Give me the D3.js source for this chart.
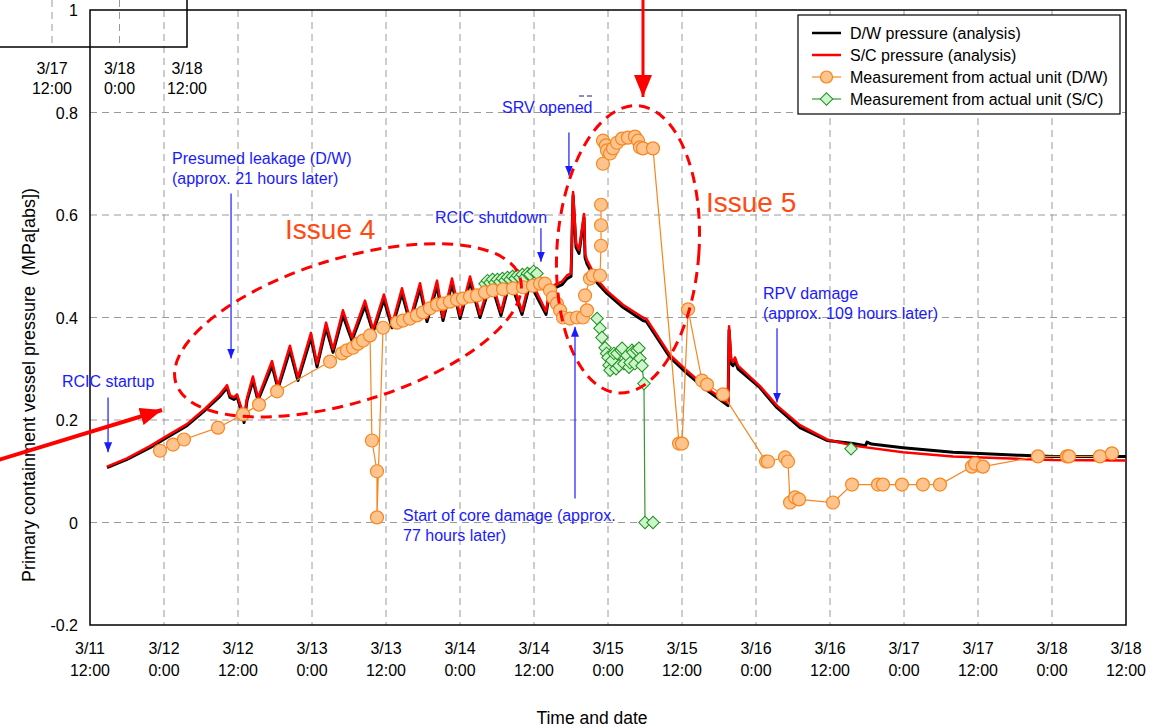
<!DOCTYPE html>
<html>
<head>
<meta charset="utf-8">
<script src="https://cdn.jsdelivr.net/npm/d3@7"></script>
<style>
  body { margin: 0; background: #fff; }
  text { font-family: Arial, "Liberation Sans", sans-serif; }
</style>
</head>
<body>
<div id="chart"></div>
<script>
const width = 1164;
const height = 728;
const plot = { left: 90, right: 1126, top: 10, bottom: 625 };

// x values are day-of-March (11.5 = 3/11 12:00), y values MPa[abs]
const xTicks = [11.5, 12, 12.5, 13, 13.5, 14, 14.5, 15, 15.5, 16, 16.5, 17, 17.5, 18, 18.5];
const xTickDays = ["3/11", "3/12", "3/12", "3/13", "3/13", "3/14", "3/14", "3/15", "3/15", "3/16", "3/16", "3/17", "3/17", "3/18", "3/18"];
const xTickTimes = ["12:00", "0:00", "12:00", "0:00", "12:00", "0:00", "12:00", "0:00", "12:00", "0:00", "12:00", "0:00", "12:00", "0:00", "12:00"];
const yTicks = [-0.2, 0, 0.2, 0.4, 0.6, 0.8, 1];
const yTickLabels = ["-0.2", "0", "0.2", "0.4", "0.6", "0.8", "1"];

// fragment of the neighbouring chart that overlaps the top-left corner
const insetTicks = [17.5, 18, 18.5];
const insetTickDays = ["3/17", "3/18", "3/18"];
const insetTickTimes = ["12:00", "0:00", "12:00"];

const dwAnalysis = [
  [11.615, 0.107], [11.75, 0.123], [11.905, 0.146], [12.02, 0.166], [12.155, 0.189], [12.277, 0.219],
  [12.378, 0.246], [12.426, 0.263], [12.446, 0.244], [12.473, 0.24], [12.493, 0.246], [12.527, 0.213],
  [12.541, 0.195], [12.561, 0.238], [12.601, 0.277], [12.635, 0.238], [12.73, 0.306], [12.77, 0.261],
  [12.851, 0.336], [12.905, 0.277], [12.993, 0.361], [13.034, 0.304], [13.095, 0.38], [13.142, 0.332],
  [13.209, 0.404], [13.27, 0.355], [13.358, 0.423], [13.412, 0.371], [13.486, 0.435], [13.541, 0.38],
  [13.608, 0.447], [13.662, 0.39], [13.73, 0.457], [13.777, 0.392], [13.845, 0.462], [13.885, 0.394],
  [13.946, 0.466], [14.0, 0.398], [14.068, 0.47], [14.135, 0.4], [14.209, 0.468], [14.277, 0.404],
  [14.338, 0.472], [14.419, 0.406], [14.473, 0.466], [14.581, 0.406], [14.608, 0.453], [14.649, 0.459],
  [14.689, 0.464], [14.723, 0.476], [14.75, 0.48], [14.764, 0.638], [14.784, 0.537], [14.804, 0.525],
  [14.838, 0.595], [14.845, 0.517], [14.858, 0.505], [14.926, 0.468], [14.993, 0.447], [15.101, 0.42],
  [15.236, 0.394], [15.26, 0.392], [15.419, 0.322], [15.534, 0.291], [15.669, 0.258], [15.811, 0.228],
  [15.818, 0.375], [15.832, 0.31], [15.845, 0.306], [15.858, 0.316], [15.878, 0.3], [16.027, 0.263],
  [16.142, 0.224], [16.297, 0.185], [16.48, 0.16], [16.655, 0.154], [16.74, 0.15], [16.75, 0.157],
  [16.78, 0.153], [16.993, 0.146], [17.331, 0.137], [17.784, 0.131], [18.007, 0.129], [18.5, 0.129]
];

const scAnalysis = [
  [11.615, 0.109], [11.75, 0.125], [11.905, 0.149], [12.02, 0.169], [12.155, 0.192], [12.277, 0.222],
  [12.378, 0.25], [12.426, 0.268], [12.446, 0.248], [12.473, 0.244], [12.493, 0.25], [12.527, 0.22],
  [12.541, 0.205], [12.561, 0.243], [12.601, 0.285], [12.635, 0.243], [12.73, 0.315], [12.77, 0.266],
  [12.851, 0.345], [12.905, 0.283], [12.993, 0.37], [13.034, 0.31], [13.095, 0.39], [13.142, 0.338],
  [13.209, 0.414], [13.27, 0.361], [13.358, 0.433], [13.412, 0.377], [13.486, 0.445], [13.541, 0.386],
  [13.608, 0.457], [13.662, 0.396], [13.73, 0.467], [13.777, 0.398], [13.845, 0.472], [13.885, 0.4],
  [13.946, 0.476], [14.0, 0.404], [14.068, 0.48], [14.135, 0.406], [14.209, 0.478], [14.277, 0.41],
  [14.338, 0.482], [14.419, 0.412], [14.473, 0.476], [14.581, 0.412], [14.608, 0.458], [14.649, 0.465],
  [14.689, 0.47], [14.723, 0.482], [14.75, 0.486], [14.764, 0.645], [14.784, 0.545], [14.804, 0.532],
  [14.838, 0.602], [14.845, 0.524], [14.858, 0.512], [14.926, 0.474], [14.993, 0.452], [15.101, 0.425],
  [15.236, 0.4], [15.26, 0.397], [15.419, 0.327], [15.534, 0.296], [15.669, 0.262], [15.811, 0.233],
  [15.818, 0.383], [15.832, 0.32], [15.845, 0.313], [15.858, 0.322], [15.878, 0.306], [16.027, 0.266],
  [16.142, 0.228], [16.297, 0.19], [16.48, 0.162], [16.655, 0.15], [16.993, 0.137], [17.331, 0.129],
  [17.784, 0.124], [18.007, 0.122], [18.5, 0.121]
];

// null marks a gap in the recorded series
const dwMeasured = [
  [11.973, 0.14], [12.061, 0.152], [12.135, 0.162], [12.365, 0.185], [12.534, 0.211], [12.642, 0.23],
  [12.764, 0.256], [13.122, 0.314], [13.203, 0.33], [13.236, 0.336], [13.277, 0.341], [13.311, 0.349],
  [13.345, 0.355], [13.392, 0.365], [13.405, 0.16], [13.439, 0.1], [13.439, 0.01], [13.48, 0.38],
  [13.574, 0.39], [13.615, 0.394], [13.662, 0.398], [13.709, 0.404], [13.75, 0.41], [13.797, 0.418],
  [13.845, 0.425], [13.885, 0.427], [13.932, 0.431], [13.98, 0.435], [14.02, 0.437], [14.068, 0.441],
  [14.115, 0.443], [14.169, 0.449], [14.223, 0.453], [14.291, 0.455], [14.358, 0.457], [14.426, 0.459],
  [14.493, 0.462], [14.541, 0.466], [14.574, 0.466], [14.608, 0.453], [14.628, 0.439], [14.655, 0.427],
  [14.676, 0.414], [14.696, 0.4], [14.743, 0.398], [14.791, 0.4], [14.831, 0.4], [14.858, 0.414],
  [14.845, 0.443], [14.878, 0.476], [14.899, 0.482], [14.946, 0.482], [14.953, 0.54], [14.953, 0.58],
  [14.953, 0.62], [14.96, null],
  [14.966, 0.7], [14.966, 0.745], [14.986, 0.736], [14.993, 0.726], [15.014, 0.72], [15.034, 0.73],
  [15.061, 0.741], [15.095, 0.749], [15.135, 0.751], [15.182, 0.753], [15.203, 0.745], [15.216, 0.732],
  [15.236, 0.73], [15.304, 0.73], [15.48, 0.154], [15.5, 0.154], [15.541, 0.416], [15.635, 0.277],
  [15.669, 0.269], [15.777, 0.25], [16.068, 0.119], [16.081, 0.119], [16.196, 0.127], [16.216, 0.119],
  [16.23, 0.039], [16.264, 0.049], [16.291, 0.045], [16.52, 0.039], [16.649, 0.074], [16.824, 0.074],
  [16.858, 0.074], [16.986, 0.074], [17.128, 0.074], [17.243, 0.074], [17.459, 0.109], [17.48, 0.115],
  [17.534, 0.109], [17.905, 0.129], [18.101, 0.129], [18.115, 0.129], [18.324, 0.129], [18.405, 0.135]
];

const scMeasured = [
  [14.169, 0.466], [14.186, 0.472], [14.203, 0.468], [14.22, 0.474], [14.236, 0.468], [14.253, 0.474],
  [14.27, 0.47], [14.287, 0.476], [14.304, 0.472], [14.321, 0.478], [14.338, 0.474], [14.355, 0.48],
  [14.372, 0.476], [14.389, 0.482], [14.405, 0.478], [14.422, 0.484], [14.439, 0.478], [14.456, 0.486],
  [14.473, 0.484], [14.497, 0.49], [14.52, 0.486], [14.53, null],
  [14.926, 0.398], [14.946, 0.379], [14.959, 0.361], [14.98, 0.341], [14.99, 0.33], [15.0, 0.322],
  [15.007, 0.307], [15.014, 0.297], [15.027, 0.316], [15.04, 0.33], [15.054, 0.3], [15.061, 0.33],
  [15.074, 0.306], [15.088, 0.336], [15.095, 0.34], [15.108, 0.31], [15.128, 0.326], [15.142, 0.303],
  [15.149, 0.312], [15.162, 0.336], [15.169, 0.332], [15.182, 0.31], [15.196, 0.336], [15.209, 0.34],
  [15.216, 0.32], [15.23, 0.306], [15.243, 0.271], [15.25, 0], [15.304, 0], [15.4, null],
  [16.642, 0.144]
];

// annotation anchors in data units
const notes = [
  { lines: ["RCIC startup"], tx: 11.31, ty: 0.265, ax: 11.622, a0: 0.244, a1: 0.137 },
  { lines: ["Presumed leakage (D/W)", "(approx. 21 hours later)"], tx: 12.054, ty: 0.699, ax: 12.453, a0: 0.642, a1: 0.32 },
  { lines: ["RCIC shutdown"], tx: 13.831, ty: 0.585, ax: 14.547, a0: 0.574, a1: 0.509 },
  { lines: ["SRV opened"], tx: 14.284, ty: 0.8, ax: 14.736, a0: 0.761, a1: 0.677 },
  { lines: ["Start of core damage (approx.", "77 hours later)"], tx: 13.615, ty: 0.002, ax: 14.777, a0: 0.047, a1: 0.382 },
  { lines: ["RPV damage", "(approx. 109 hours later)"], tx: 16.047, ty: 0.437, ax: 16.142, a0: 0.379, a1: 0.234 }
];
const issues = [
  { label: "Issue 4", tx: 12.818, ty: 0.554, cx: 13.243, cy: 0.375, rx: 180, ry: 72, rot: -17 },
  { label: "Issue 5", tx: 15.662, ty: 0.605, cx: 15.135, cy: 0.533, rx: 71, ry: 144, rot: 4 }
];

const xScale = d3.scaleLinear().domain([11.5, 18.5]).range([plot.left, plot.right]);
const yScale = d3.scaleLinear().domain([-0.2, 1]).range([plot.bottom, plot.top]);
const insetScale = d3.scaleLinear().domain([17.5, 18.5]).range([52, 187]);

const svg = d3
  .select("#chart")
  .append("svg")
  .attr("width", width)
  .attr("height", height);

svg.append("rect").attr("width", width).attr("height", height).attr("fill", "#fff");

const defs = svg.append("defs");
const addHead = (id, color, w, h) => {
  defs
    .append("marker")
    .attr("id", id)
    .attr("viewBox", `0 0 ${w} ${h}`)
    .attr("refX", w)
    .attr("refY", h / 2)
    .attr("markerWidth", w)
    .attr("markerHeight", h)
    .attr("markerUnits", "userSpaceOnUse")
    .attr("orient", "auto")
    .append("path")
    .attr("d", `M0,0L${w},${h / 2}L0,${h}Z`)
    .attr("fill", color);
};
addHead("blueHead", "#1a1aff", 10, 8);
addHead("redHead", "#ff0000", 22, 18);

// grid
const grid = svg.append("g").attr("stroke", "#9a9a9a").attr("stroke-width", 1).attr("stroke-dasharray", "7,5");
grid
  .selectAll("line.v")
  .data(xTicks.slice(1, -1))
  .enter()
  .append("line")
  .attr("x1", d => xScale(d))
  .attr("x2", d => xScale(d))
  .attr("y1", plot.top)
  .attr("y2", plot.bottom);
grid
  .selectAll("line.h")
  .data(yTicks.slice(1, -1))
  .enter()
  .append("line")
  .attr("x1", plot.left)
  .attr("x2", plot.right)
  .attr("y1", d => yScale(d))
  .attr("y2", d => yScale(d));

// frame
svg
  .append("rect")
  .attr("x", plot.left)
  .attr("y", plot.top)
  .attr("width", plot.right - plot.left)
  .attr("height", plot.bottom - plot.top)
  .attr("fill", "none")
  .attr("stroke", "#000")
  .attr("stroke-width", 1.5);

// axis labels
const xLabels = svg.append("g").attr("font-size", 16).attr("text-anchor", "middle").attr("fill", "#000");
xTicks.forEach((t, i) => {
  const lbl = xLabels.append("text").attr("x", xScale(t)).attr("y", 654);
  lbl.append("tspan").attr("x", xScale(t)).text(xTickDays[i]);
  lbl.append("tspan").attr("x", xScale(t)).attr("dy", 22).text(xTickTimes[i]);
});

svg
  .append("g")
  .attr("font-size", 16)
  .attr("text-anchor", "end")
  .selectAll("text")
  .data(yTicks)
  .enter()
  .append("text")
  .attr("x", plot.left - 12)
  .attr("y", d => yScale(d) + 6)
  .text((d, i) => yTickLabels[i]);

svg
  .append("text")
  .attr("x", 592)
  .attr("y", 724)
  .attr("text-anchor", "middle")
  .attr("font-size", 17.5)
  .text("Time and date");

svg
  .append("text")
  .attr("transform", "translate(35,385) rotate(-90)")
  .attr("text-anchor", "middle")
  .attr("font-size", 18)
  .style("white-space", "pre")
  .text("Primary containment vessel pressure  (MPa[abs])");

// series
const line = d3
  .line()
  .defined(d => d[1] !== null)
  .x(d => xScale(d[0]))
  .y(d => yScale(d[1]));

const plotArea = svg.append("g");

plotArea
  .append("path")
  .datum(dwAnalysis)
  .attr("fill", "none")
  .attr("stroke", "#000")
  .attr("stroke-width", 3)
  .attr("stroke-linejoin", "round")
  .attr("d", line);

plotArea
  .append("path")
  .datum(scAnalysis)
  .attr("fill", "none")
  .attr("stroke", "#ff0000")
  .attr("stroke-width", 2.5)
  .attr("stroke-linejoin", "round")
  .attr("d", line);

plotArea
  .append("path")
  .datum(scMeasured)
  .attr("fill", "none")
  .attr("stroke", "#2f9a2f")
  .attr("stroke-width", 1.2)
  .attr("d", line);

const diamond = d3.symbol().type(d3.symbolSquare).size(78);
plotArea
  .selectAll("path.sc")
  .data(scMeasured.filter(d => d[1] !== null))
  .enter()
  .append("path")
  .attr("class", "sc")
  .attr("d", diamond)
  .attr("transform", d => `translate(${xScale(d[0])},${yScale(d[1])}) rotate(45)`)
  .attr("fill", "#ccf5cc")
  .attr("stroke", "#1e8f1e")
  .attr("stroke-width", 1);

plotArea
  .append("path")
  .datum(dwMeasured)
  .attr("fill", "none")
  .attr("stroke", "#f7861f")
  .attr("stroke-width", 1.2)
  .attr("d", line);

plotArea
  .selectAll("circle.dw")
  .data(dwMeasured.filter(d => d[1] !== null))
  .enter()
  .append("circle")
  .attr("class", "dw")
  .attr("cx", d => xScale(d[0]))
  .attr("cy", d => yScale(d[1]))
  .attr("r", 6.5)
  .attr("fill", "#ffc48e")
  .attr("stroke", "#f7861f")
  .attr("stroke-width", 1.2);

// issue ellipses and labels
issues.forEach(d => {
  svg
    .append("ellipse")
    .attr("cx", 0)
    .attr("cy", 0)
    .attr("rx", d.rx)
    .attr("ry", d.ry)
    .attr("transform", `translate(${xScale(d.cx)},${yScale(d.cy)}) rotate(${d.rot})`)
    .attr("fill", "none")
    .attr("stroke", "#ff0000")
    .attr("stroke-width", 3)
    .attr("stroke-dasharray", "11,7");
  svg
    .append("text")
    .attr("x", xScale(d.tx))
    .attr("y", yScale(d.ty))
    .attr("font-size", 28)
    .attr("fill", "#ff4a12")
    .text(d.label);
});

// blue annotations
notes.forEach(d => {
  const t = svg
    .append("text")
    .attr("x", xScale(d.tx))
    .attr("y", yScale(d.ty))
    .attr("font-size", 16)
    .attr("fill", "#1a1aff");
  d.lines.forEach((s, i) => {
    t.append("tspan").attr("x", xScale(d.tx)).attr("dy", i === 0 ? 0 : 20).text(s);
  });
  svg
    .append("line")
    .attr("x1", xScale(d.ax))
    .attr("x2", xScale(d.ax))
    .attr("y1", yScale(d.a0))
    .attr("y2", yScale(d.a1))
    .attr("stroke", "#1a1aff")
    .attr("stroke-width", 1.2)
    .attr("marker-end", "url(#blueHead)");
});
svg
  .append("line")
  .attr("x1", 579)
  .attr("x2", 593)
  .attr("y1", 96)
  .attr("y2", 96)
  .attr("stroke", "#1a1a8a")
  .attr("stroke-width", 1)
  .attr("stroke-dasharray", "5,3");

// big red arrows
svg
  .append("line")
  .attr("x1", 643)
  .attr("y1", -2)
  .attr("x2", 643)
  .attr("y2", 97)
  .attr("stroke", "#ff0000")
  .attr("stroke-width", 3)
  .attr("marker-end", "url(#redHead)");
svg
  .append("line")
  .attr("x1", -5)
  .attr("y1", 461)
  .attr("x2", 162)
  .attr("y2", 410)
  .attr("stroke", "#ff0000")
  .attr("stroke-width", 4)
  .attr("marker-end", "url(#redHead)");

// overlapping fragment of the neighbouring chart
const inset = svg.append("g");
inset
  .selectAll("line.g")
  .data(insetTicks.slice(0, -1))
  .enter()
  .append("line")
  .attr("x1", d => insetScale(d))
  .attr("x2", d => insetScale(d))
  .attr("y1", 0)
  .attr("y2", 47)
  .attr("stroke", "#9a9a9a")
  .attr("stroke-dasharray", "7,5");
inset
  .append("path")
  .attr("d", `M0,47H${insetScale(18.5)}V0`)
  .attr("fill", "none")
  .attr("stroke", "#000")
  .attr("stroke-width", 1.5);
insetTicks.forEach((t, i) => {
  const lbl = inset
    .append("text")
    .attr("x", insetScale(t))
    .attr("y", 74)
    .attr("font-size", 16)
    .attr("text-anchor", "middle");
  lbl.append("tspan").attr("x", insetScale(t)).text(insetTickDays[i]);
  lbl.append("tspan").attr("x", insetScale(t)).attr("dy", 20).text(insetTickTimes[i]);
});

// legend
const legendItems = [
  { name: "D/W pressure (analysis)", color: "#000", mark: null },
  { name: "S/C pressure (analysis)", color: "#ff0000", mark: null },
  { name: "Measurement from actual unit (D/W)", color: "#f7861f", mark: "circle" },
  { name: "Measurement from actual unit (S/C)", color: "#2f9a2f", mark: "diamond" }
];
const legend = svg.append("g");
legend
  .append("rect")
  .attr("x", 798)
  .attr("y", 15)
  .attr("width", 322)
  .attr("height", 99)
  .attr("fill", "#fff")
  .attr("stroke", "#000")
  .attr("stroke-width", 1.2);
legendItems.forEach((d, i) => {
  const y = 33 + i * 22;
  legend
    .append("line")
    .attr("x1", 812)
    .attr("x2", 841)
    .attr("y1", y)
    .attr("y2", y)
    .attr("stroke", d.color)
    .attr("stroke-width", d.mark ? 1.2 : 2.5);
  if (d.mark === "circle") {
    legend
      .append("circle")
      .attr("cx", 826.5)
      .attr("cy", y)
      .attr("r", 6)
      .attr("fill", "#ffc48e")
      .attr("stroke", "#f7861f")
      .attr("stroke-width", 1.2);
  } else if (d.mark === "diamond") {
    legend
      .append("path")
      .attr("d", diamond)
      .attr("transform", `translate(826.5,${y}) rotate(45)`)
      .attr("fill", "#ccf5cc")
      .attr("stroke", "#1e8f1e");
  }
  legend
    .append("text")
    .attr("x", 850)
    .attr("y", y + 6)
    .attr("font-size", 16)
    .text(d.name);
});
</script>
</body>
</html>
